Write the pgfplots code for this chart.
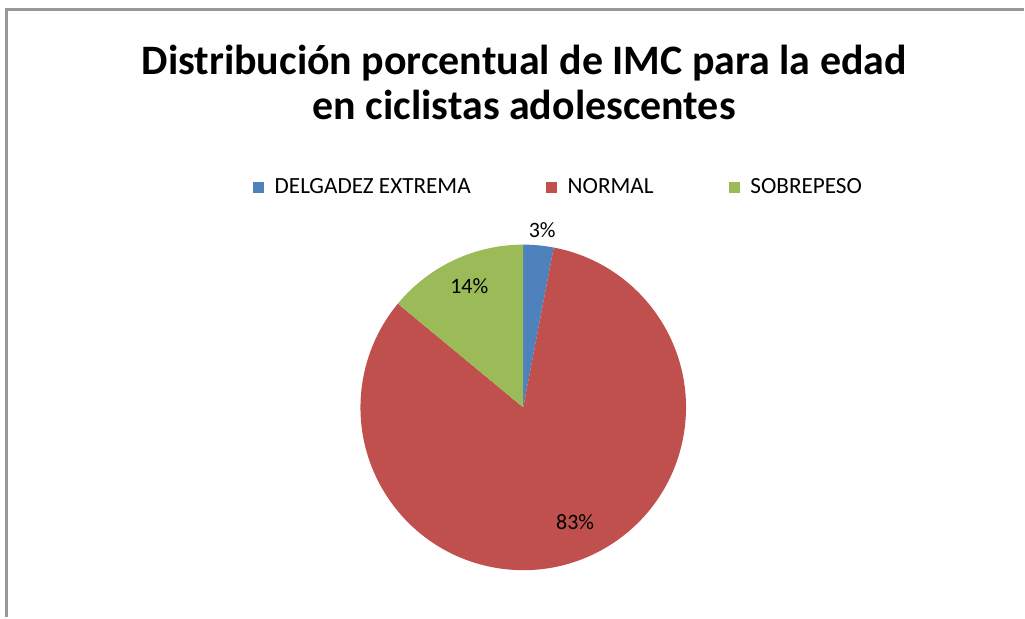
\documentclass[border=0pt]{standalone}
\usepackage{fontspec}
\setmainfont{Carlito}
\usepackage{pgfplots}
\usepackage{pgfplotstable}
\pgfplotsset{compat=1.18}

\definecolor{cblue}{HTML}{4F81BD}
\definecolor{cred}{HTML}{C0504D}
\definecolor{cgreen}{HTML}{9BBB59}

% IMC por edad, porcentaje
\pgfplotstableread{
label value
DELGADEZ 3
NORMAL 83
SOBREPESO 14
}\imcdata

\pgfplotstablegetelem{0}{value}\of\imcdata \let\va\pgfplotsretval
\pgfplotstablegetelem{1}{value}\of\imcdata \let\vb\pgfplotsretval
\pgfplotstablegetelem{2}{value}\of\imcdata \let\vc\pgfplotsretval
\pgfmathsetmacro\aA{90}
\pgfmathsetmacro\aB{\aA-3.6*\va}
\pgfmathsetmacro\aC{\aB-3.6*\vb}
\pgfmathsetmacro\aD{\aC-3.6*\vc}
\def\R{3.26cm}

\begin{document}
\begin{tikzpicture}
\begin{axis}[
    scale only axis,
    width=20.5cm, height=12.36cm,
    xmin=0, xmax=1025, ymin=0, ymax=618,
    hide axis, clip=false,
    legend columns=3,
    legend style={at={(0.5465,0.696)}, anchor=center, draw=none, fill=none,
        font=\fontsize{13.2}{15}\selectfont,
        /tikz/every odd column/.append style={column sep=4pt},
        /tikz/every even column/.append style={column sep=41pt}},
    legend image code/.code={\path[#1,draw=none] (0cm,-0.11cm) rectangle (0.22cm,0.11cm);},
]
\path (0,0) rectangle (1025,618);
\draw[gray!80, line width=1.7pt] (7,0) -- (7,608.5) -- (1025,608.5);

\addlegendimage{fill=cblue}
\addlegendentry{DELGADEZ EXTREMA}
\addlegendimage{fill=cred}
\addlegendentry{NORMAL}
\addlegendimage{fill=cgreen}
\addlegendentry{SOBREPESO}

\fill[cblue] (axis cs:524,210) -- ++(\aA:\R) arc[start angle=\aA, end angle=\aB, radius=\R] -- cycle;
\fill[cred] (axis cs:524,210) -- ++(\aB:\R) arc[start angle=\aB, end angle=\aC, radius=\R] -- cycle;
\fill[cgreen] (axis cs:524,210) -- ++(\aC:\R) arc[start angle=\aC, end angle=\aD, radius=\R] -- cycle;

\node[font=\bfseries\fontsize{23.9}{25.8}\selectfont, align=center] at (axis cs:525,535.5)
    {Distribución porcentual de IMC para la edad\\en ciclistas adolescentes};
\node[font=\fontsize{12.5}{14}\selectfont] at (axis cs:543,388) {3\%};
\node[font=\fontsize{12.5}{14}\selectfont] at (axis cs:470,331) {14\%};
\node[font=\fontsize{12.5}{14}\selectfont] at (axis cs:576,95) {83\%};
\end{axis}
\end{tikzpicture}
\end{document}
